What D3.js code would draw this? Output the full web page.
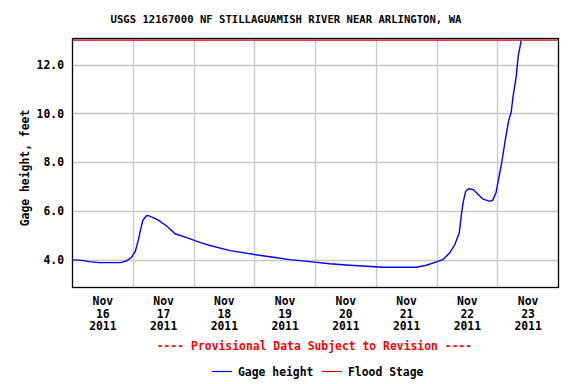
<!DOCTYPE html>
<html>
<head>
<meta charset="utf-8">
<script src="https://cdn.jsdelivr.net/npm/d3@7"></script>
<style>
  body { margin: 0; background: #fff; }
  text { font-family: "DejaVu Sans Mono", monospace; font-weight: bold; }
</style>
</head>
<body>
<div id="chart"></div>
<script>
// gage height readings (local time, feet)
let times = [
    "2011-11-16 00:00", "2011-11-16 04:45", "2011-11-16 06:45", "2011-11-16 10:45", "2011-11-16 19:15",
    "2011-11-16 21:45", "2011-11-16 23:30", "2011-11-17 01:00", "2011-11-17 02:15", "2011-11-17 03:15",
    "2011-11-17 04:00", "2011-11-17 05:15", "2011-11-17 06:00", "2011-11-17 08:15", "2011-11-17 10:15",
    "2011-11-17 13:30", "2011-11-17 16:45", "2011-11-17 20:45", "2011-11-18 02:30", "2011-11-18 06:30",
    "2011-11-18 14:30", "2011-11-18 23:30", "2011-11-19 07:30", "2011-11-19 14:00", "2011-11-19 22:00",
    "2011-11-20 05:45", "2011-11-20 13:45", "2011-11-21 03:00", "2011-11-21 16:00", "2011-11-21 20:00",
    "2011-11-22 00:00", "2011-11-22 02:30", "2011-11-22 05:15", "2011-11-22 07:15", "2011-11-22 09:00",
    "2011-11-22 09:45", "2011-11-22 10:30", "2011-11-22 11:30", "2011-11-22 12:45", "2011-11-22 14:30",
    "2011-11-22 16:30", "2011-11-22 18:15", "2011-11-22 21:00", "2011-11-22 22:15", "2011-11-22 23:30",
    "2011-11-23 01:00", "2011-11-23 01:45", "2011-11-23 03:00", "2011-11-23 04:30", "2011-11-23 05:30",
    "2011-11-23 06:15", "2011-11-23 07:30", "2011-11-23 08:15", "2011-11-23 09:30"
];
let gageHeight = [
    4.01, 3.97, 3.93, 3.89, 3.89,
    3.97, 4.11, 4.35, 4.83, 5.31,
    5.62, 5.79, 5.82, 5.72, 5.62,
    5.38, 5.07, 4.93, 4.72, 4.59,
    4.38, 4.23, 4.11, 4.01, 3.93,
    3.84, 3.78, 3.70, 3.70, 3.78,
    3.92, 4.01, 4.29, 4.63, 5.11,
    5.79, 6.34, 6.81, 6.91, 6.88,
    6.68, 6.50, 6.40, 6.45, 6.75,
    7.57, 7.97, 8.80, 9.70, 10.05,
    10.70, 11.52, 12.34, 13.00
];
let floodStage = 13.0;
let yTicks = [4.0, 6.0, 8.0, 10.0, 12.0];
let dayLabels = ["2011-11-16", "2011-11-17", "2011-11-18", "2011-11-19", "2011-11-20", "2011-11-21", "2011-11-22", "2011-11-23"];

let parseTime = d3.timeParse("%Y-%m-%d %H:%M");
let parseDay = d3.timeParse("%Y-%m-%d");
let data = times.map((t, i) => ({ date: parseTime(t), value: gageHeight[i] }));

let margin = { top: 38, right: 18, bottom: 97, left: 72 };
let width = 576 - margin.left - margin.right,
    height = 384 - margin.top - margin.bottom;

let svg = d3.select("#chart").append("svg")
    .attr("width", 576)
    .attr("height", 384);

let g = svg.append("g")
    .attr("transform", "translate(" + margin.left + "," + margin.top + ")");

// Scales
let x = d3.scaleTime()
    .domain([parseDay("2011-11-16"), parseDay("2011-11-24")])
    .range([0, width]);

let y = d3.scaleLinear()
    .domain([2.89, 13.09])
    .range([height, 0]);

// Gridlines
let days = d3.timeDay.range(parseDay("2011-11-17"), parseDay("2011-11-24"));
g.append("g")
    .selectAll("line")
    .data(days)
    .join("line")
    .attr("x1", d => Math.round(x(d)) + 0.5)
    .attr("x2", d => Math.round(x(d)) + 0.5)
    .attr("y1", 0)
    .attr("y2", height)
    .attr("stroke", "#c8c8c8")
    .attr("stroke-width", 1.3);

g.append("g")
    .selectAll("line")
    .data(yTicks)
    .join("line")
    .attr("x1", 0)
    .attr("x2", width)
    .attr("y1", d => Math.round(y(d)) + 0.5)
    .attr("y2", d => Math.round(y(d)) + 0.5)
    .attr("stroke", "#c8c8c8")
    .attr("stroke-width", 1.3);

// Y axis labels
let yAxis = d3.axisLeft(y)
    .tickValues(yTicks)
    .tickFormat(d3.format(".1f"))
    .tickSize(0)
    .tickPadding(8);

g.append("g")
    .attr("class", "y-axis")
    .call(yAxis)
    .call(s => s.select(".domain").remove())
    .selectAll("text")
    .attr("font-size", "11.4px")
    .attr("font-family", "DejaVu Sans Mono")
    .attr("fill", "#000");

// X axis labels, centered at noon of each day
let noons = dayLabels.map(d => d3.timeHour.offset(parseDay(d), 12));
let xAxis = d3.axisBottom(x)
    .tickValues(noons)
    .tickSize(0)
    .tickFormat("");

let xg = g.append("g")
    .attr("class", "x-axis")
    .attr("transform", "translate(0," + height + ")")
    .call(xAxis);
xg.select(".domain").remove();

xg.selectAll(".tick").each(function(d) {
    let t = d3.select(this).select("text")
        .attr("y", 0)
        .attr("dy", null)
        .attr("font-size", "11.4px")
        .attr("font-family", "DejaVu Sans Mono")
        .attr("fill", "#000");
    let lines = [d3.timeFormat("%b")(d), d3.timeFormat("%-d")(d), d3.timeFormat("%Y")(d)];
    lines.forEach((l, i) => {
        t.append("tspan")
            .attr("x", 0)
            .attr("y", 18 + i * 12.7)
            .text(l);
    });
});

// Flood stage line
g.append("line")
    .attr("x1", 0)
    .attr("x2", width)
    .attr("y1", y(floodStage))
    .attr("y2", y(floodStage))
    .attr("stroke", "#e00000")
    .attr("stroke-width", 1.3);

// Gage height line
let line = d3.line()
    .x(d => x(d.date))
    .y(d => y(d.value));

g.append("path")
    .datum(data)
    .attr("d", line)
    .attr("fill", "none")
    .attr("stroke", "#0000ff")
    .attr("stroke-width", 1.4);

// Plot frame
g.append("rect")
    .attr("x", 0.5)
    .attr("y", 0.5)
    .attr("width", width)
    .attr("height", height)
    .attr("fill", "none")
    .attr("stroke", "#000")
    .attr("stroke-width", 1.3);

// Title
svg.append("text")
    .attr("x", 286)
    .attr("y", 23)
    .attr("text-anchor", "middle")
    .attr("font-size", "10.6px")
    .text("USGS 12167000 NF STILLAGUAMISH RIVER NEAR ARLINGTON, WA");

// Y axis title
svg.append("text")
    .attr("transform", "translate(29,168) rotate(-90)")
    .attr("text-anchor", "middle")
    .attr("font-size", "11.4px")
    .text("Gage height, feet");

// Provisional note
svg.append("text")
    .attr("x", 314.5)
    .attr("y", 350)
    .attr("text-anchor", "middle")
    .attr("font-size", "11.4px")
    .attr("fill", "#ff0000")
    .text("---- Provisional Data Subject to Revision ----");

// Legend
let legend = svg.append("g");
let legendItems = [
    { label: "Gage height", color: "#0000ff", x: 212 },
    { label: "Flood Stage", color: "#e00000", x: 322 }
];
legendItems.forEach(item => {
    legend.append("line")
        .attr("x1", item.x)
        .attr("x2", item.x + 20)
        .attr("y1", 371.5)
        .attr("y2", 371.5)
        .attr("stroke", item.color)
        .attr("stroke-width", 1.2);
    legend.append("text")
        .attr("x", item.x + 26)
        .attr("y", 376)
        .attr("font-size", "11.4px")
        .text(item.label);
});
</script>
</body>
</html>
